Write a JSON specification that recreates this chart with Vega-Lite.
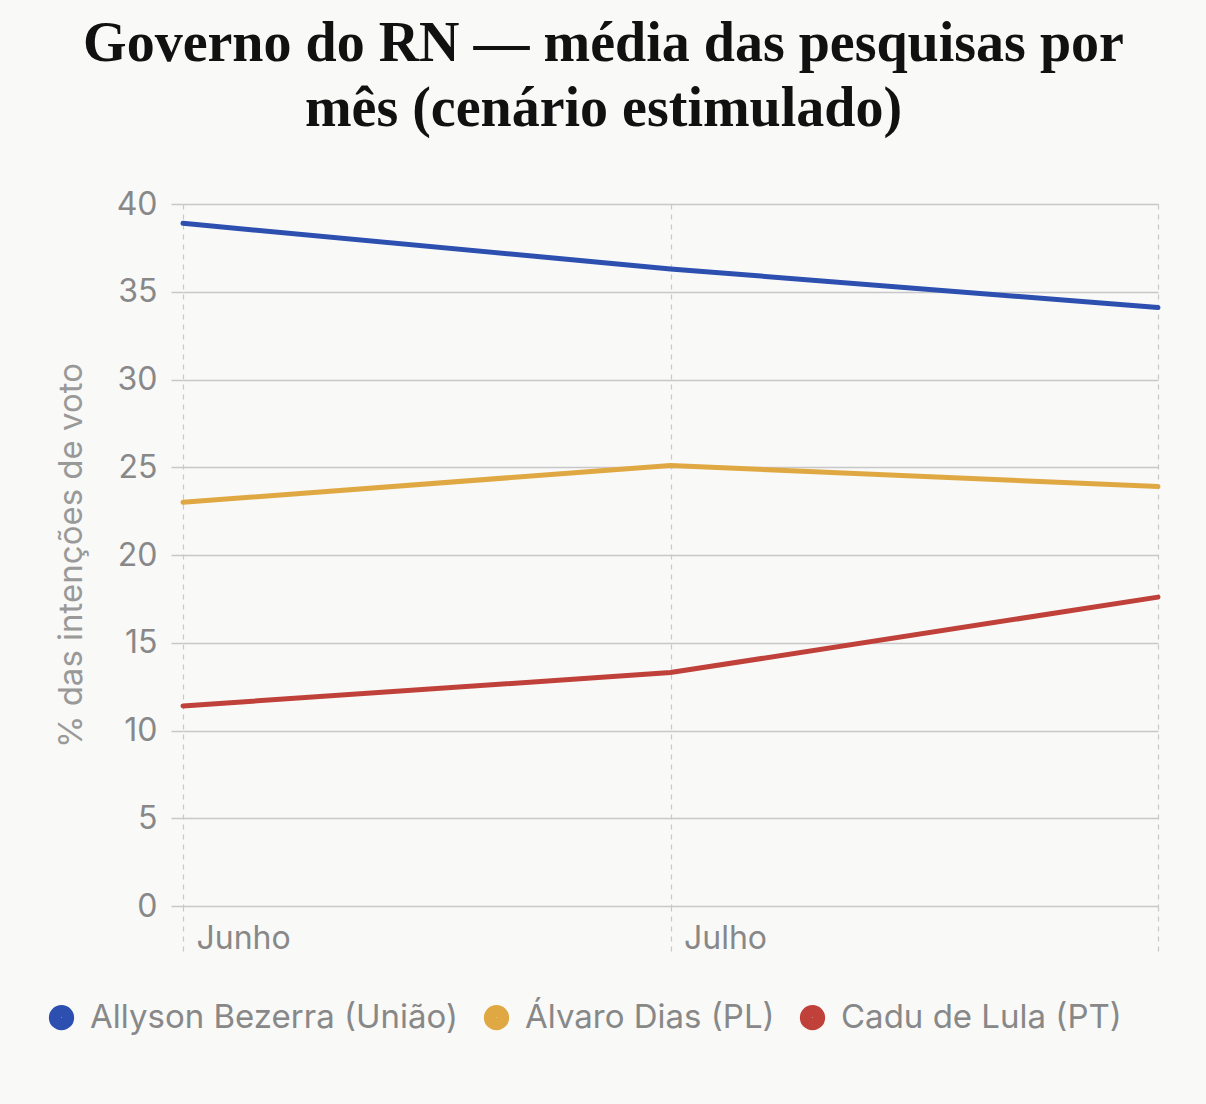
{
  "$schema": "https://vega.github.io/schema/vega-lite/v6.json",
  "autosize": "none",
  "width": 975,
  "height": 702,
  "padding": {"left": 183, "top": 204, "right": 48, "bottom": 198},
  "background": "#f9f9f8",
  "title": {
    "text": ["Governo do RN — média das pesquisas por", "mês (cenário estimulado)"],
    "font": "Liberation Serif",
    "fontWeight": "bold",
    "fontSize": 56,
    "lineHeight": 65,
    "color": "#111111",
    "anchor": "middle",
    "dx": -67,
    "offset": 50
  },
  "data": {
    "values": [
      {"mes": "Junho", "candidato": "Allyson Bezerra (União)", "pct": 38.9},
      {"mes": "Julho", "candidato": "Allyson Bezerra (União)", "pct": 36.3},
      {"mes": "Agosto", "candidato": "Allyson Bezerra (União)", "pct": 34.1},
      {"mes": "Junho", "candidato": "Álvaro Dias (PL)", "pct": 23.0},
      {"mes": "Julho", "candidato": "Álvaro Dias (PL)", "pct": 25.1},
      {"mes": "Agosto", "candidato": "Álvaro Dias (PL)", "pct": 23.9},
      {"mes": "Junho", "candidato": "Cadu de Lula (PT)", "pct": 11.4},
      {"mes": "Julho", "candidato": "Cadu de Lula (PT)", "pct": 13.3},
      {"mes": "Agosto", "candidato": "Cadu de Lula (PT)", "pct": 17.6}
    ]
  },
  "mark": {"type": "line", "strokeWidth": 5, "strokeCap": "round"},
  "encoding": {
    "x": {
      "field": "mes",
      "type": "ordinal",
      "sort": ["Junho", "Julho", "Agosto"],
      "scale": {"type": "point", "padding": 0},
      "axis": {
        "title": null,
        "domain": false,
        "labelAngle": 0,
        "grid": true,
        "gridColor": "#c8c8c8",
        "gridDash": [5, 5],
        "gridWidth": 1.2,
        "ticks": true,
        "tickSize": 46,
        "tickColor": "#c8c8c8",
        "tickDash": [5, 5],
        "tickWidth": 1.2,
        "labelAlign": "left",
        "labelBaseline": "top",
        "labelOffset": 13,
        "labelPadding": -29,
        "labelFont": "Inter",
        "labelFontSize": 32,
        "labelColor": "#888888",
        "labelExpr": "datum.label == 'Agosto' ? '' : datum.label"
      }
    },
    "y": {
      "field": "pct",
      "type": "quantitative",
      "scale": {"domain": [0, 40]},
      "axis": {
        "title": "% das intenções de voto",
        "titleFont": "Inter",
        "titleFontSize": 33,
        "titleFontWeight": "normal",
        "titleColor": "#999999",
        "titlePadding": 28,
        "values": [0, 5, 10, 15, 20, 25, 30, 35, 40],
        "domain": false,
        "grid": true,
        "gridColor": "#c8c8c8",
        "gridWidth": 1.5,
        "tickSize": 12,
        "tickColor": "#c8c8c8",
        "tickWidth": 1.5,
        "labelPadding": 14,
        "labelFont": "Inter",
        "labelFontSize": 32,
        "labelColor": "#888888"
      }
    },
    "color": {
      "field": "candidato",
      "type": "nominal",
      "scale": {
        "domain": ["Allyson Bezerra (União)", "Álvaro Dias (PL)", "Cadu de Lula (PT)"],
        "range": ["#2c4fb0", "#e0a842", "#c0403a"]
      },
      "legend": {
        "title": null,
        "orient": "none",
        "direction": "horizontal",
        "legendX": -138,
        "legendY": 797,
        "symbolType": "circle",
        "symbolSize": 150,
        "symbolStrokeWidth": 13,
        "symbolOpacity": 1,
        "labelFont": "Inter",
        "labelFontSize": 33,
        "labelColor": "#888888",
        "labelOffset": 12,
        "labelLimit": 0,
        "columnPadding": 5
      }
    }
  },
  "config": {
    "view": {"stroke": null}
  }
}
